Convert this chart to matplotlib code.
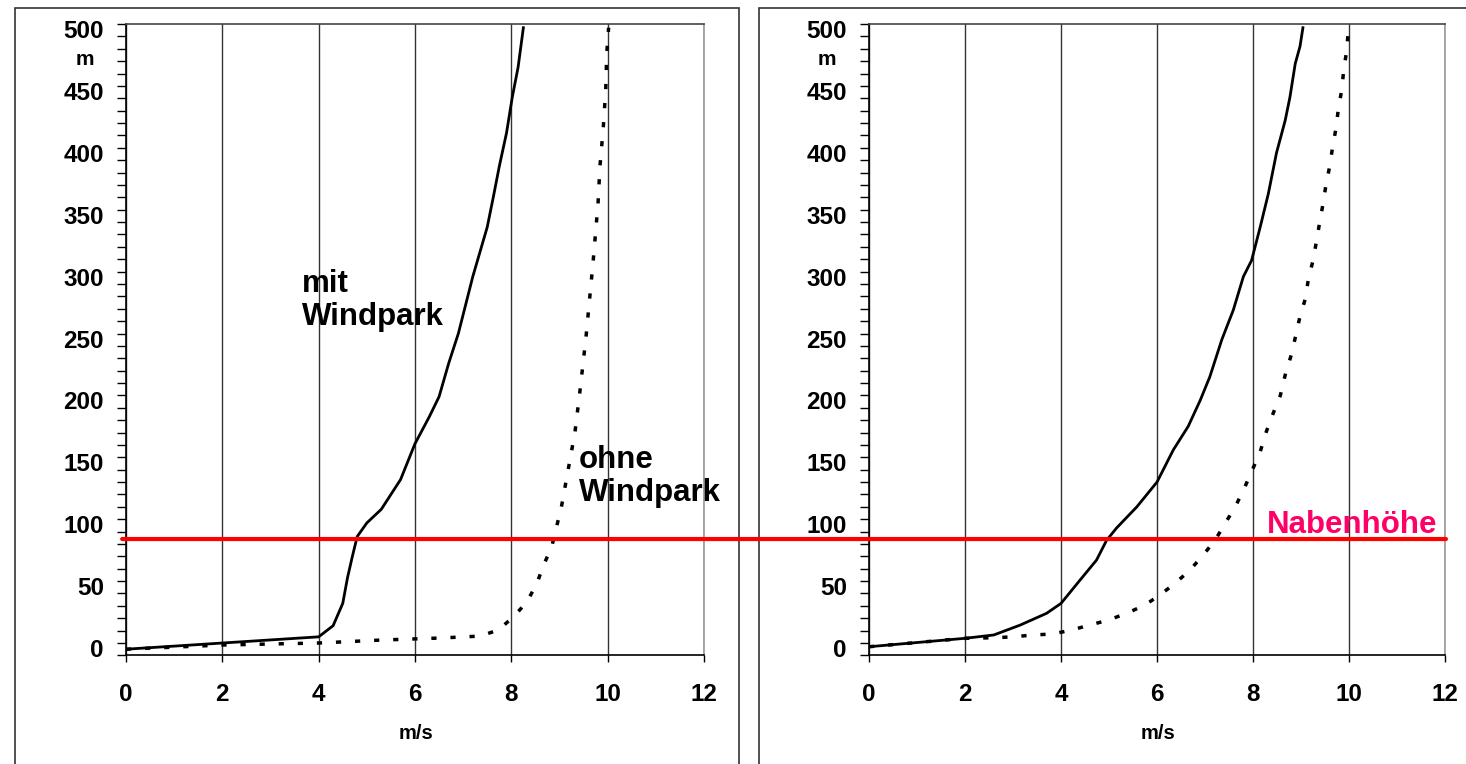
import matplotlib
matplotlib.use('Agg')
import matplotlib.pyplot as plt
from matplotlib.patches import Rectangle, ConnectionPatch
from matplotlib.ticker import MultipleLocator
from matplotlib.transforms import ScaledTranslation

# Windprofil mit / ohne Windpark (links und rechts)
left_mit_x = [0, 1, 2, 3, 4, 4.3, 4.5, 4.6, 4.7, 4.8, 5.0, 5.3, 5.7, 6.0, 6.3, 6.5, 6.7, 6.9, 7.2, 7.5,
              7.63, 7.75, 7.9, 8.02, 8.14, 8.25]
left_mit_y = [-5, -2.5, 0, 2.5, 5, 14, 32, 53, 70, 86, 97, 108, 132, 161, 183, 199, 226, 250, 296, 336,
              361, 385, 412, 441, 465, 497]

left_ohne_x = [0, 2, 4, 5.3, 6.5, 7.35, 7.73, 8.04, 8.32, 8.53, 8.66, 8.84, 8.94, 9.04, 9.18, 9.32, 9.42,
               9.55, 9.63, 9.70, 9.80, 9.84, 9.91, 9.96, 9.98, 10.02]
left_ohne_y = [-5, -1.6, 0, 2.4, 4, 5.6, 10.5, 21, 33, 48, 62, 78, 94, 110, 140, 170, 202,
               247, 280, 309, 355, 385, 417, 447, 476, 497]

right_mit_x = [0, 2, 2.6, 3.15, 3.7, 4.0, 4.4, 4.74, 4.95, 5.16, 5.58, 6.0, 6.34, 6.65, 6.9, 7.1, 7.35,
               7.59, 7.8, 7.97, 8.15, 8.32, 8.49, 8.67, 8.77, 8.88, 8.98, 9.04]
right_mit_y = [-3, 3.8, 6.5, 14.5, 24, 32, 51, 67, 83, 93, 110, 130, 156, 175, 196, 215, 245,
               269, 296, 309, 336, 363, 396, 422, 441, 468, 482, 497]

right_ohne_x = [0, 2, 2.63, 3.0, 3.42, 3.83, 4.22, 4.6, 4.99, 5.37, 5.75, 6.06, 6.37, 6.69, 6.96, 7.21,
                7.42, 7.63, 7.83, 8.0, 8.15, 8.28, 8.42, 8.57, 8.68, 8.8, 8.9, 8.98, 9.09, 9.15, 9.25,
                9.32, 9.39, 9.46, 9.52, 9.6, 9.66, 9.73, 9.78, 9.85, 9.89, 9.95, 9.99]
right_ohne_y = [-3, 3.8, 4.3, 5, 6.5, 7.3, 10.5, 14.5, 18.6, 24, 30.7, 38.8, 48, 59, 71, 83,
                96.7, 110, 126, 141, 154.5, 171, 185.5, 200, 218, 233, 250, 264, 278, 293, 309,
                324, 340, 355, 370, 385.5, 401, 416, 432, 447, 463, 478, 497]

nabenhoehe = 84

plt.rcParams['font.family'] = ['Liberation Sans', 'DejaVu Sans']

fig = plt.figure(figsize=(14.66, 7.64), dpi=100)
W, H = 1466, 764

# Rahmen um die beiden Diagramme
fig.patches.append(Rectangle((15 / W, -0.05), (739 - 15) / W, 0.05 + 1 - 8 / H, transform=fig.transFigure,
                             fill=False, edgecolor='#333333', linewidth=1.2))
fig.patches.append(Rectangle((759 / W, -0.05), 0.5, 0.05 + 1 - 8 / H, transform=fig.transFigure,
                             fill=False, edgecolor='#333333', linewidth=1.2))

bottom = 1 - 655.4 / H
height = (655.4 - 24) / H
ax1 = fig.add_axes([126 / W, bottom, 578 / W, height])
ax2 = fig.add_axes([869 / W, bottom, 576 / W, height])

dash = (0, (1.5, 4.0))
ax1.plot(left_mit_x, left_mit_y, color='black', linewidth=2.0, zorder=3)
ax1.plot(left_ohne_x, left_ohne_y, color='black', linewidth=2.5, linestyle=dash, zorder=3)
ax2.plot(right_mit_x, right_mit_y, color='black', linewidth=2.0, zorder=3)
ax2.plot(right_ohne_x, right_ohne_y, color='black', linewidth=2.5, linestyle=dash, zorder=3)

for ax, m_x in [(ax1, -0.071), (ax2, -0.073)]:
    ax.set_xlim(0, 12)
    ax.set_ylim(-10, 500)
    ax.xaxis.set_major_locator(MultipleLocator(2))
    ax.yaxis.set_major_locator(MultipleLocator(50))
    ax.yaxis.set_minor_locator(MultipleLocator(10))
    ax.tick_params(axis='y', which='both', direction='out', length=6.5, width=1.0, pad=9.5,
                   labelsize=17.5)
    ax.tick_params(axis='x', which='major', direction='out', length=5, width=1.0, pad=15,
                   labelsize=17.5)
    for lab in ax.get_xticklabels() + ax.get_yticklabels():
        lab.set_fontweight('bold')
    for t in ax.yaxis.get_major_ticks():
        t.label1.set_transform(t.label1.get_transform() + ScaledTranslation(0, -0.05, fig.dpi_scale_trans))
    ax.grid(axis='x', color='#333333', linewidth=1.0)
    ax.xaxis.get_major_ticks()[-1].gridline.set_visible(False)
    ax.spines['left'].set_linewidth(1.2)
    ax.spines['bottom'].set_linewidth(1.2)
    ax.spines['top'].set_color('#444444')
    ax.spines['top'].set_linewidth(1.2)
    ax.spines['right'].set_color('#999999')
    ax.spines['right'].set_linewidth(1.2)
    ax.set_ylabel('m', rotation=0, fontsize=15, fontweight='bold', va='center', ha='center')
    ax.yaxis.set_label_coords(m_x, 0.943)
    ax.set_xlabel('m/s', fontsize=14.5, fontweight='bold', va='center')
    ax.xaxis.set_label_coords(0.502, -0.123)

ax1.text(3.65, 302, 'mit\nWindpark', fontsize=22.5, fontweight='bold', ha='left', va='top',
         linespacing=1.13, zorder=4)
ax1.text(9.4, 160, 'ohne\nWindpark', fontsize=22.5, fontweight='bold', ha='left', va='top',
         linespacing=1.13, zorder=4)
ax2.text(11.85, 89, 'Nabenhöhe', fontsize=22.5, fontweight='bold', color='#ff0066',
         ha='right', va='baseline', zorder=4)

# Nabenhoehe als durchgehende rote Linie ueber beide Diagramme
hub = ConnectionPatch(xyA=(-0.08, nabenhoehe), coordsA=ax1.transData,
                      xyB=(12.02, nabenhoehe), coordsB=ax2.transData,
                      color='#ff0000', linewidth=3.0, zorder=5)
fig.add_artist(hub)

plt.savefig('out.png', dpi=100)
plt.close()
